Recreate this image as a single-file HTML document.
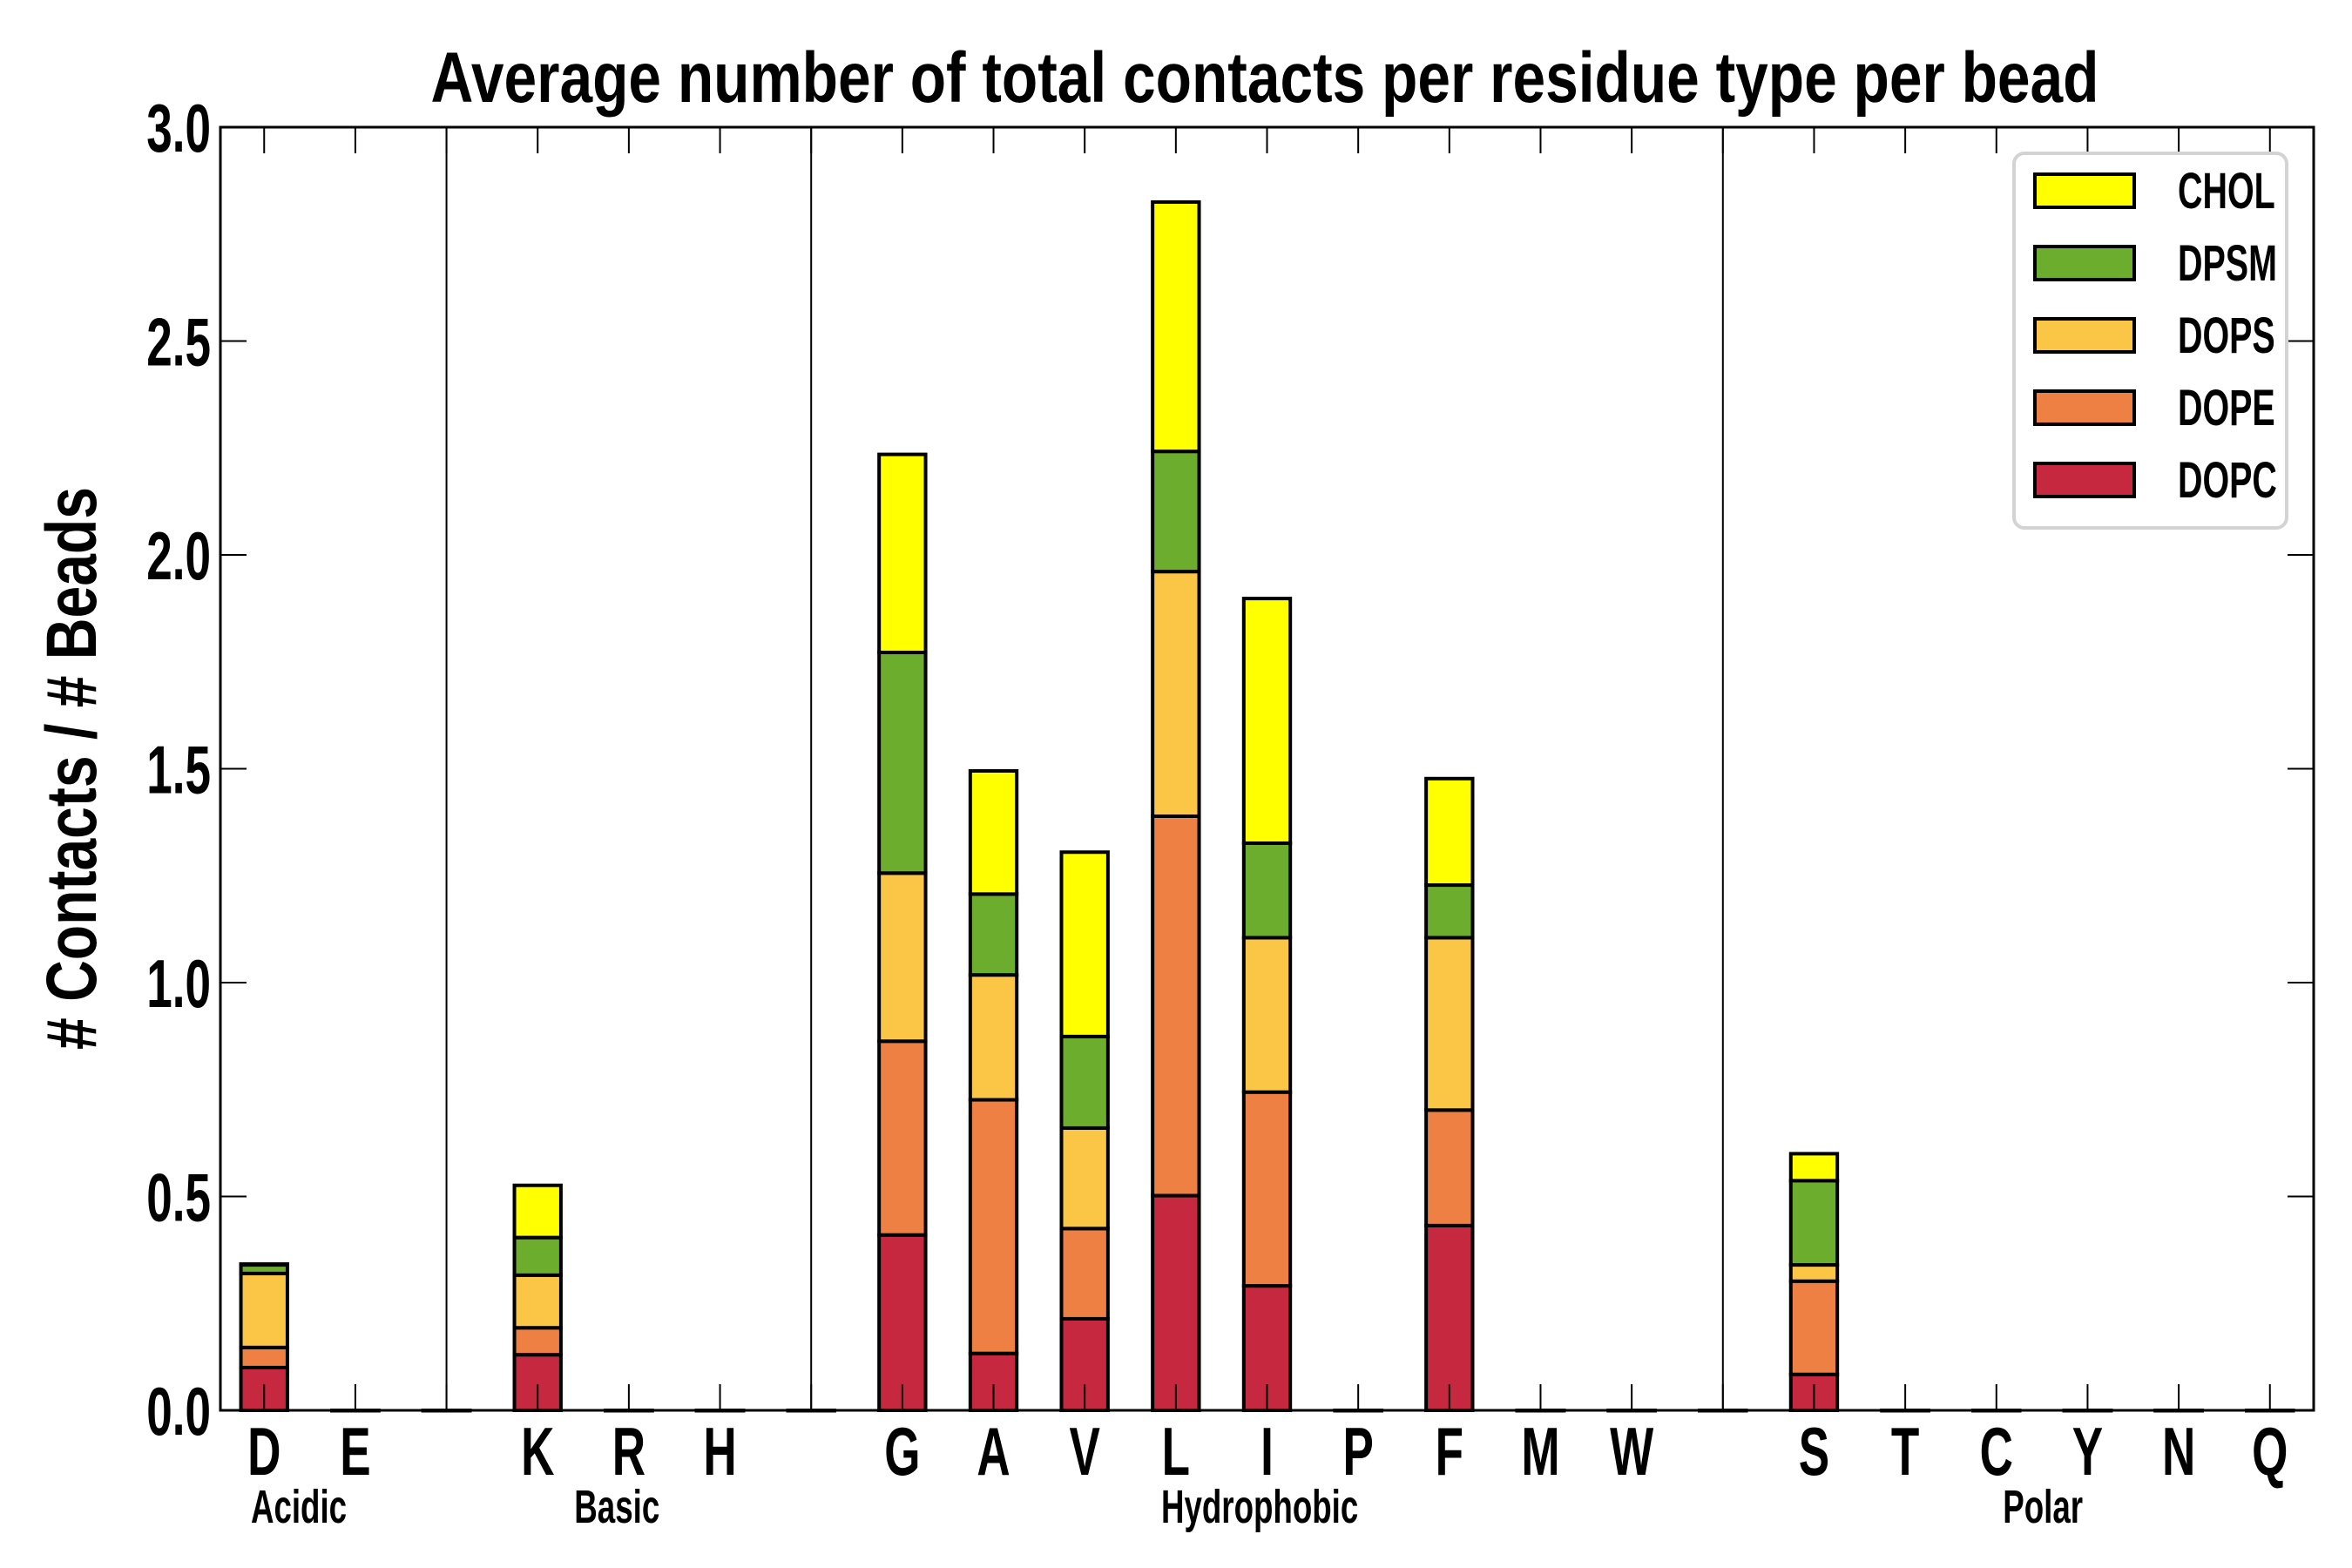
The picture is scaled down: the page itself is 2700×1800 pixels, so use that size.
<!DOCTYPE html>
<html><head><meta charset="utf-8">
<style>
html,body{margin:0;padding:0;background:#fff;}
svg{display:block;}
text{font-family:"Liberation Sans Narrow","Liberation Sans",sans-serif;font-weight:bold;fill:#000;}
</style></head>
<body>
<svg id="chart" width="2700" height="1800" viewBox="0 0 2700 1800" xmlns="http://www.w3.org/2000/svg">
  <text x="1452" y="117" font-size="82" text-anchor="middle" textLength="1915" lengthAdjust="spacingAndGlyphs">Average number of total contacts per residue type per bead</text>
  <text transform="translate(110,882) rotate(-90)" font-size="82" text-anchor="middle" textLength="646" lengthAdjust="spacingAndGlyphs"># Contacts / # Beads</text>
  <g id="plot"></g>
  <g id="legend"></g>
</svg>
<script>
const categories = ["D","E","","K","R","H","","G","A","V","L","I","P","F","M","W","","S","T","C","Y","N","Q"];
const seriesNames = ["DOPC","DOPE","DOPS","DPSM","CHOL"];
const dopc = [0.10,0,0,0.13,0,0,0,0.41,0.133,0.214,0.502,0.291,0,0.432,0,0,0,0.084,0,0,0,0,0];
const dope = [0.047,0,0,0.063,0,0,0,0.453,0.593,0.211,0.887,0.453,0,0.270,0,0,0,0.218,0,0,0,0,0];
const dops = [0.173,0,0,0.123,0,0,0,0.393,0.292,0.235,0.572,0.361,0,0.403,0,0,0,0.038,0,0,0,0,0];
const dpsm = [0.02,0,0,0.088,0,0,0,0.516,0.189,0.214,0.281,0.221,0,0.123,0,0,0,0.197,0,0,0,0,0];
const chol = [0.002,0,0,0.122,0,0,0,0.463,0.288,0.431,0.583,0.572,0,0.249,0,0,0,0.063,0,0,0,0,0];
const yTicks = [0.0,0.5,1.0,1.5,2.0,2.5,3.0];
const yTickLabels = ["0.0","0.5","1.0","1.5","2.0","2.5","3.0"];
const groupLabels = ["Acidic","Basic","Hydrophobic","Polar"];
const groupCenters = [0.38,3.87,10.92,19.51];
const separators = [2,6,16];

const colors = ["#c62840","#ef8043","#fbc546","#6dad2d","#ffff00"];
const series = [dopc,dope,dops,dpsm,chol];
const L=253,R=2656,T=146,B=1619;
const xmin=-0.48,xmax=categories.length-1+0.48;
const ymax=3.0;
const xs = i => L + (i - xmin)/(xmax-xmin)*(R-L);
const ys = v => B - v/ymax*(B-T);
const NS="http://www.w3.org/2000/svg";
const plot=document.getElementById('plot');
function mk(tag,attrs,parent){const e=document.createElementNS(NS,tag);for(const k in attrs)e.setAttribute(k,attrs[k]);(parent||plot).appendChild(e);return e;}
function txt(x,y,size,anchor,str,parent){
  const t=mk('text',{transform:'translate('+x+','+y+') scale(0.68,1)','font-size':size,'text-anchor':anchor},parent);
  t.textContent=str;return t;
}
const bw=(xs(1)-xs(0))*0.51;

separators.forEach(s=>{
  const l=mk('line',{x1:xs(s),x2:xs(s),y1:T,y2:B,stroke:'#000','stroke-width':2});
  
  
});
categories.forEach((c,i)=>{
  let base=0;
  series.forEach((s,k)=>{
    const v=s[i];
    const y0=ys(base),y1=ys(base+v);
    const r=mk('rect',{x:xs(i)-bw/2,y:y1,width:bw,height:Math.max(y0-y1,0.5),fill:colors[k],stroke:'#000','stroke-width':4});
    
    
    base+=v;
  });
  mk('line',{x1:xs(i),x2:xs(i),y1:T,y2:T+30,stroke:'#000','stroke-width':2});
  mk('line',{x1:xs(i),x2:xs(i),y1:B,y2:B-30,stroke:'#000','stroke-width':2});
  if(c){
    const t=txt(xs(i),1693,78,'middle',c);
    
    
  }
});
yTicks.forEach((v,j)=>{
  mk('line',{x1:L,x2:L+30,y1:ys(v),y2:ys(v),stroke:'#000','stroke-width':2});
  mk('line',{x1:R,x2:R-30,y1:ys(v),y2:ys(v),stroke:'#000','stroke-width':2});
  const t=txt(242,ys(v)+28,78,'end',yTickLabels[j]);
  
  
});
groupLabels.forEach((g,j)=>{
  const t=txt(xs(groupCenters[j]),1748,54,'middle',g);
  
  
});
const fr=mk('rect',{x:L,y:T,width:R-L,height:B-T,fill:'none',stroke:'#000','stroke-width':3});



const lg=document.getElementById('legend');
mk('rect',{x:2312,y:176,width:313,height:430,rx:12,fill:'#fff',stroke:'#d3d3d3','stroke-width':4},lg);
const order=[4,3,2,1,0];
order.forEach((k,j)=>{
  const cy=219+j*83;
  const g=mk('g',{},lg);
  
  
  mk('rect',{x:2336,y:cy-19,width:114,height:38,fill:colors[k],stroke:'#000','stroke-width':4},g);
  txt(2500,cy+20,58,'start',seriesNames[k],g);
});
</script>
</body></html>
